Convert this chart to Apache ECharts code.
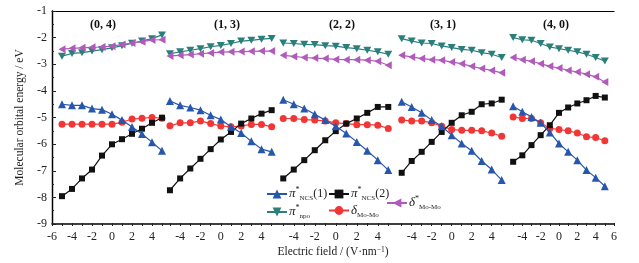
<!DOCTYPE html>
<html><head><meta charset="utf-8">
<script src="https://cdn.jsdelivr.net/npm/echarts@6/dist/echarts.min.js"></script>
<style>html,body{margin:0;padding:0;background:#fff}#c{width:639px;height:263px}</style>
</head><body><div id="c"></div>
<script>
// ---- data ----
const fieldValues = [-5,-4,-3,-2,-1,0,1,2,3,4,5];
const panelLabels = ['(0, 4)','(1, 3)','(2, 2)','(3, 1)','(4, 0)'];
const xTickLabels = [[-6,-4,-2,0,2,4],[-4,-2,0,2,4],[-4,-2,0,2,4],[-4,-2,0,2,4],[-4,-2,0,2,4,6]];
const seriesNames = ['π*NCS(1)','π*NCS(2)','π*npo','δMo-Mo','δ*Mo-Mo'];
const piNCS1 = [
  [-4.47,-4.51,-4.51,-4.63,-4.67,-4.84,-5.06,-5.32,-5.58,-5.88,-6.20],
  [-4.35,-4.51,-4.59,-4.69,-4.88,-5.04,-5.31,-5.54,-5.85,-6.14,-6.24],
  [-4.30,-4.47,-4.63,-4.84,-5.06,-5.29,-5.56,-5.87,-6.20,-6.55,-6.92],
  [-4.38,-4.57,-4.79,-5.06,-5.29,-5.62,-5.93,-6.20,-6.58,-6.90,-7.29],
  [-4.54,-4.75,-4.94,-5.16,-5.52,-5.93,-6.24,-6.55,-6.92,-7.20,-7.52]
];
const piNCS2 = [
  [-7.89,-7.62,-7.23,-6.90,-6.38,-5.96,-5.77,-5.57,-5.38,-5.16,-4.97],
  [-7.67,-7.23,-6.86,-6.50,-6.14,-5.78,-5.50,-5.19,-5.00,-4.82,-4.69],
  [-7.23,-6.90,-6.55,-6.18,-5.81,-5.47,-5.19,-5.00,-4.79,-4.57,-4.57],
  [-7.02,-6.58,-6.24,-5.87,-5.50,-5.16,-4.88,-4.75,-4.47,-4.44,-4.30],
  [-6.61,-6.37,-5.99,-5.62,-5.25,-4.79,-4.59,-4.44,-4.32,-4.16,-4.22]
];
const piNpo = [
  [-2.68,-2.58,-2.55,-2.49,-2.44,-2.37,-2.29,-2.20,-2.12,-2.03,-1.89],
  [-2.59,-2.52,-2.46,-2.40,-2.33,-2.28,-2.21,-2.12,-2.09,-2.05,-2.02],
  [-2.19,-2.21,-2.24,-2.25,-2.29,-2.31,-2.36,-2.40,-2.46,-2.52,-2.61],
  [-2.03,-2.12,-2.19,-2.21,-2.30,-2.36,-2.43,-2.46,-2.55,-2.61,-2.73],
  [-1.99,-2.07,-2.09,-2.21,-2.34,-2.40,-2.46,-2.52,-2.61,-2.73,-2.86]
];
const deltaMoMo = [
  [-5.21,-5.21,-5.21,-5.21,-5.21,-5.21,-5.14,-5.02,-4.99,-4.96,-4.99],
  [-5.27,-5.16,-5.16,-5.09,-5.19,-5.28,-5.31,-5.28,-5.22,-5.22,-5.31],
  [-5.00,-5.00,-5.04,-5.06,-5.09,-5.16,-5.19,-5.23,-5.23,-5.25,-5.37],
  [-5.06,-5.09,-5.09,-5.16,-5.29,-5.41,-5.44,-5.44,-5.46,-5.54,-5.66],
  [-4.94,-5.00,-5.00,-5.16,-5.37,-5.41,-5.46,-5.54,-5.68,-5.71,-5.83]
];
const deltaStarMoMo = [
  [-2.42,-2.39,-2.37,-2.35,-2.34,-2.31,-2.25,-2.19,-2.14,-2.08,-2.07],
  [-2.67,-2.65,-2.62,-2.59,-2.56,-2.53,-2.52,-2.51,-2.50,-2.49,-2.49],
  [-2.65,-2.69,-2.73,-2.75,-2.77,-2.80,-2.81,-2.81,-2.83,-2.87,-3.02],
  [-2.65,-2.71,-2.77,-2.81,-2.83,-2.90,-2.96,-3.06,-3.14,-3.21,-3.30],
  [-2.73,-2.81,-2.87,-2.96,-3.06,-3.12,-3.21,-3.27,-3.35,-3.45,-3.64]
];

// ---- layout / style ----
const FONT = 'Liberation Serif';
const panelLeft = [52,167,278,395,506];
const panelWidth = [115,111,117,111,108];
const panelMin = [-6,-5.29,-5.5,-5.67,-5.78];
const panelMax = [5.5,5.62,5.64,5.43,6];
const titleX = [103,227,342,443,556];
const GT = 11, GB = 37;
const colors = ['#2757ad','#111111','#2a7f7b','#f23636','#b05abb'];
const symbols = ['triangle','rect','path://M0,0 L10,0 L5,9 Z','circle','path://M10,0 L0,5 L10,10 Z'];
const symSizes = [8,6,[8,7],7,[7,8]];
const groups = [piNCS1, piNCS2, piNpo, deltaMoMo, deltaStarMoMo];

const grids = [], xAxes = [], yAxes = [], series = [];
for (let p = 0; p < 5; p++) {
  grids.push({left: panelLeft[p], width: panelWidth[p], top: GT, bottom: GB});
  const ticks = [];
  for (let t = Math.ceil(panelMin[p]); t <= Math.floor(panelMax[p]); t++) ticks.push(t);
  xAxes.push({
    type: 'value', gridIndex: p, min: panelMin[p], max: panelMax[p],
    axisLine: {show: false}, splitLine: {show: false},
    axisTick: {show: true, inside: true, length: 3, customValues: ticks, lineStyle: {color: '#222', width: 1}},
    axisLabel: {customValues: xTickLabels[p], color: '#222', fontFamily: FONT, fontSize: 12, margin: 5}
  });
  yAxes.push({type: 'value', gridIndex: p, min: -9, max: -1, show: false});
  for (let g = 0; g < 5; g++) {
    series.push({
      type: 'line', name: seriesNames[g], xAxisIndex: p, yAxisIndex: p,
      data: fieldValues.map((x, i) => [x, groups[g][p][i]]),
      symbol: symbols[g], symbolSize: symSizes[g], showSymbol: true,
      itemStyle: {color: colors[g]}, lineStyle: {color: colors[g], width: 1.2},
      animation: false, z: [4,3,2,2,2][g]
    });
  }
}
// frame grid
grids.push({left: 52, right: 25, top: GT, bottom: GB});
xAxes.push({type: 'value', gridIndex: 5, min: 0, max: 1, position: 'bottom',
  axisLine: {show: true, lineStyle: {color: '#000', width: 1.5}}, axisTick: {show: false},
  axisLabel: {show: false}, splitLine: {show: false},
  name: 'Electric field / (V·nm{sup|−1})', nameLocation: 'middle', nameGap: 22,
  nameTextStyle: {fontFamily: FONT, fontSize: 11.5, color: '#222',
    rich: {sup: {fontFamily: FONT, fontSize: 7.5, color: '#222', verticalAlign: 'top', lineHeight: 10}}}
});
xAxes.push({type: 'value', gridIndex: 5, min: 0, max: 1, position: 'top',
  axisLine: {show: true, lineStyle: {color: '#000', width: 1.2}}, axisTick: {show: false},
  axisLabel: {show: false}, splitLine: {show: false}});
yAxes.push({type: 'value', gridIndex: 5, min: -9, max: -1, interval: 1, position: 'left',
  axisLine: {show: true, lineStyle: {color: '#000', width: 1.3}},
  axisTick: {show: true, inside: true, length: 4, lineStyle: {color: '#222'}},
  minorTick: {show: true, splitNumber: 2, length: 2, lineStyle: {color: '#222'}},
  axisLabel: {color: '#222', fontFamily: FONT, fontSize: 12, margin: 5}, splitLine: {show: false},
  name: 'Molecular orbital energy / eV', nameLocation: 'middle', nameGap: 25,
  nameTextStyle: {fontFamily: FONT, fontSize: 11.5, color: '#222'}
});
yAxes.push({type: 'value', gridIndex: 5, min: -9, max: -1, position: 'right',
  axisLine: {show: true, lineStyle: {color: '#000', width: 1.2}}, axisTick: {show: false},
  axisLabel: {show: false}, splitLine: {show: false}});

const rich = {
  i: {fontFamily: FONT, fontStyle: 'italic', fontSize: 13, color: '#222', lineHeight: 16},
  n: {fontFamily: FONT, fontSize: 12, color: '#222', lineHeight: 16},
  sup: {fontFamily: FONT, fontSize: 8, color: '#222', verticalAlign: 'top', lineHeight: 16},
  sub: {fontFamily: FONT, fontSize: 7, color: '#222', verticalAlign: 'bottom', lineHeight: 14}
};
const legendText = {
  'π*NCS(1)': '{i|π}{sup|*}{sub|NCS}{n|(1)}',
  'π*NCS(2)': '{i|π}{sup|*}{sub|NCS}{n|(2)}',
  'π*npo': '{i|π}{sup|*}{sub|npo}',
  'δMo-Mo': '{i|δ}{sub|Mo-Mo}',
  'δ*Mo-Mo': '{i|δ}{sup|*}{sub|Mo-Mo}'
};
const legendPos = [[266,186],[328,186],[266,204],[328,204],[386,195]];
const legends = seriesNames.map((n, k) => ({
  data: [n], left: legendPos[k][0], top: legendPos[k][1], padding: 0,
  itemWidth: 20, itemHeight: 11, itemGap: 0, selectedMode: false,
  formatter: name => legendText[name],
  textStyle: {rich: rich, padding: [0,0,0,-3]}
}));

const chart = echarts.init(document.getElementById('c'), null, {renderer: 'canvas'});
chart.setOption({
  backgroundColor: '#fff', animation: false,
  grid: grids, xAxis: xAxes, yAxis: yAxes, series: series, legend: legends,
  graphic: panelLabels.map((t, p) => ({
    type: 'text', x: titleX[p], y: 25,
    style: {text: t, fontFamily: FONT, fontWeight: 'bold', fontSize: 12, fill: '#111', align: 'center', verticalAlign: 'middle'}
  }))
});
</script></body></html>
